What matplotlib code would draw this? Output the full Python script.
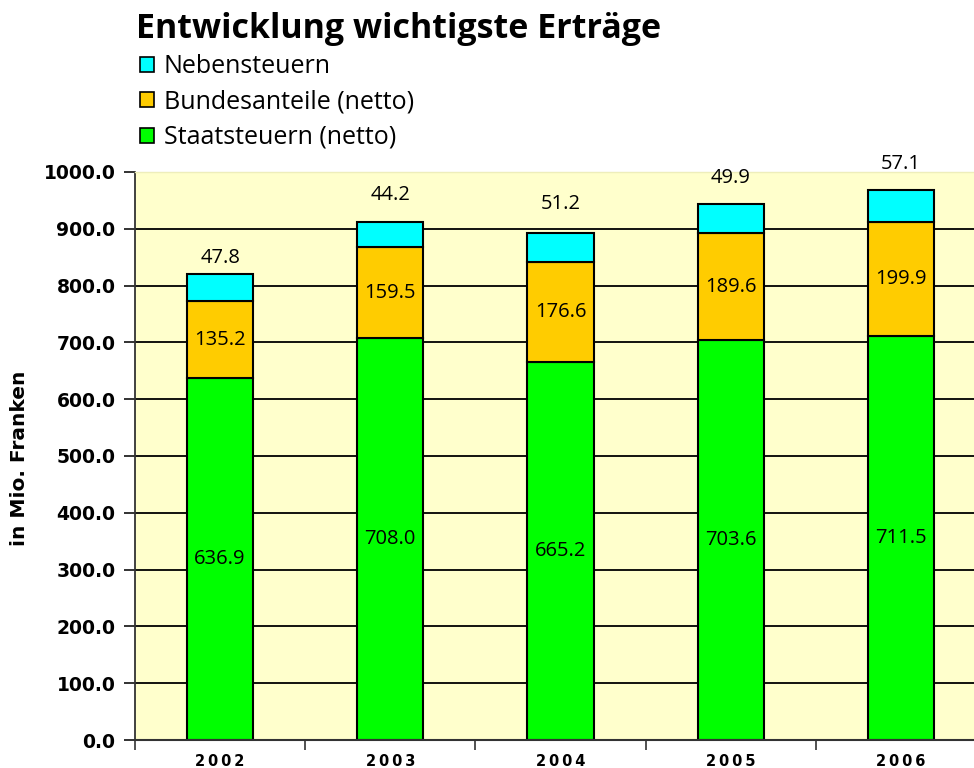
import matplotlib
matplotlib.use("Agg")
import matplotlib.pyplot as plt
from matplotlib.patches import Patch
import numpy as np

years = ["2002", "2003", "2004", "2005", "2006"]
staatssteuern = [636.9, 708.0, 665.2, 703.6, 711.5]
bundesanteile = [135.2, 159.5, 176.6, 189.6, 199.9]
nebensteuern = [47.8, 44.2, 51.2, 49.9, 57.1]
series_names = ["Staatsteuern (netto)", "Bundesanteile (netto)", "Nebensteuern"]
yticks = [0, 100, 200, 300, 400, 500, 600, 700, 800, 900, 1000]

title = "Entwicklung wichtigste Erträge"
ylabel = "in Mio. Franken"

colors = ["#00FF00", "#FFCC00", "#00FFFF"]
label_font = "Open Sans"

fig = plt.figure(figsize=(9.74, 7.68), dpi=100)
W, H = 974, 768
ax = fig.add_axes([135 / W, (H - 740) / H, (986 - 135) / W, (740 - 172) / H])
ax.set_facecolor("#FFFFCC")

x = np.arange(len(years))
bw = 0.39
s = np.array(staatssteuern)
b = np.array(bundesanteile)
n = np.array(nebensteuern)

ax.hlines(yticks[1:-1], -0.5, len(years) - 0.5, colors="black", linewidth=1.3, zorder=1)

ax.bar(x, s, bw, color=colors[0], edgecolor="black", linewidth=1.5, zorder=2)
ax.bar(x, b, bw, bottom=s, color=colors[1], edgecolor="black", linewidth=1.5, zorder=2)
ax.bar(x, n, bw, bottom=s + b, color=colors[2], edgecolor="black", linewidth=1.5, zorder=2)

for xi, v in zip(x, s):
    ax.text(xi, v / 2, f"{v:.1f}", ha="center", va="center", fontsize=14.5, family=label_font, zorder=3)
for xi, v, base in zip(x, b, s):
    ax.text(xi, base + v / 2, f"{v:.1f}", ha="center", va="center", fontsize=14.5, family=label_font, zorder=3)
top_offsets = [16, 27, 29, 26, 26]
for xi, v, base, off in zip(x, n, s + b, top_offsets):
    ax.annotate(f"{v:.1f}", (xi, base + v), xytext=(0, off * 72 / 100), textcoords="offset points",
                ha="center", va="center", fontsize=14.5, family=label_font, zorder=3,
                annotation_clip=False)

ax.set_xlim(-0.5, len(years) - 0.5)
ax.set_ylim(0, 1000)
ax.set_yticks(yticks)
ax.set_yticklabels([f"{t:.1f}" for t in yticks], fontsize=13.5, fontweight="bold", family="DejaVu Sans")
ax.set_xticks(x)
ax.set_xticklabels(["\u2009".join(y) for y in years], fontsize=10.5, fontweight="bold", family="DejaVu Sans")
ax.set_xticks(np.arange(len(years) + 1) - 0.5, minor=True)
ax.tick_params(axis="x", which="major", length=0, pad=10)
ax.tick_params(axis="x", which="minor", length=7, width=1.2, color="#333333")
ax.tick_params(axis="y", length=8, width=1.3, pad=6, color="#222222")

ax.spines["top"].set_color("#EEEEBB")
ax.spines["top"].set_linewidth(1)
ax.spines["right"].set_visible(False)
ax.spines["left"].set_color("#333333")
ax.spines["left"].set_linewidth(1.3)
ax.spines["bottom"].set_color("#333333")
ax.spines["bottom"].set_linewidth(1.5)

fig.text(20 / W, (H - 458) / H, ylabel, rotation=90, ha="center", va="center",
         fontsize=14.5, fontweight="bold", family="DejaVu Sans")

fig.text(136 / W, (H - 29) / H, title, ha="left", va="center", fontsize=24.5,
         fontweight="bold", family=label_font)

handles = [Patch(facecolor=colors[i], edgecolor="black", linewidth=1.2, label=series_names[i]) for i in (2, 1, 0)]
leg = fig.legend(handles=handles, loc="upper left", bbox_to_anchor=(140 / W, (H - 54) / H),
                 frameon=False, prop={"family": label_font, "size": 18},
                 handlelength=0.55, handleheight=0.55, handletextpad=0.4, labelspacing=0.42,
                 borderpad=0, borderaxespad=0)

fig.savefig("out.png", dpi=100)
